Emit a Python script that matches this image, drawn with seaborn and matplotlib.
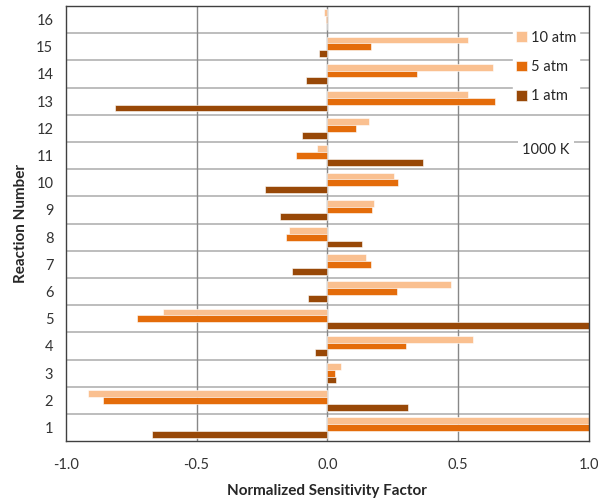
import pandas as pd
import seaborn as sns
import matplotlib.pyplot as plt

# sensitivity data, reaction 1..16
reactions = [str(i) for i in range(1, 17)]
atm10 = [1.0, -0.914, 0.053, 0.558, -0.629, 0.474, 0.149, -0.146,
         0.180, 0.254, -0.041, 0.159, 0.537, 0.632, 0.537, -0.012]
atm5 = [1.0, -0.858, 0.029, 0.302, -0.728, 0.267, 0.168, -0.159,
        0.169, 0.270, -0.120, 0.109, 0.639, 0.343, 0.168, -0.007]
atm1 = [-0.669, 0.308, 0.032, -0.048, 1.0, -0.074, -0.134, 0.131,
        -0.181, -0.239, 0.365, -0.096, -0.813, -0.080, -0.032, 0.0]
pressures = ["10 atm", "5 atm", "1 atm"]
colors = ["#FAC090", "#E46C0A", "#984807"]
xticks = [-1.0, -0.5, 0.0, 0.5, 1.0]

df = pd.DataFrame({
    "reaction": reactions * 3,
    "value": atm10 + atm5 + atm1,
    "pressure": [p for p in pressures for _ in reactions],
})

sns.set_style("white")
plt.rcParams["font.family"] = ["Lato", "DejaVu Sans"]

fig = plt.figure(figsize=(5.98, 4.99), dpi=100)
ax = fig.add_axes([0.110, 0.116, 0.875, 0.872])

# separators between reactions and vertical grid, drawn under the bars
for i in range(15):
    ax.axhline(i + 0.5, color="#bdbdbd", lw=1.4, zorder=0)
for x in [-0.5, 0.0, 0.5]:
    ax.axvline(x, color="#888888", lw=1.0, zorder=0)

sns.barplot(data=df, x="value", y="reaction", hue="pressure",
            order=reactions[::-1], hue_order=pressures, palette=colors,
            saturation=1, orient="h", width=0.75, edgecolor="white",
            linewidth=0.4, ax=ax, zorder=2)

ax.set_xlim(-1, 1)
ax.set_xticks(xticks)
ax.set_xticklabels([f"{v:.1f}" for v in xticks])
ax.tick_params(axis="both", length=0, labelsize=10.5, colors="#333333")
ax.tick_params(axis="x", pad=12)
ax.tick_params(axis="y", pad=9)
for s in ax.spines.values():
    s.set_color("#404040")
    s.set_linewidth(1.0)

ax.set_xlabel("Normalized Sensitivity Factor", fontsize=11, fontweight="bold", labelpad=9)
ax.set_ylabel("Reaction Number", fontsize=11, fontweight="bold", labelpad=6)

h, l = ax.get_legend_handles_labels()
ax.legend(h, l, loc="center", bbox_to_anchor=(546 / 598, 1 - 67 / 499),
          bbox_transform=fig.transFigure, frameon=True, framealpha=1,
          edgecolor="white", facecolor="white", fontsize=10.5,
          handlelength=0.75, handleheight=0.75, handletextpad=0.3,
          labelspacing=1.05, borderpad=0.2, fancybox=False)

ax.text(546, 499 - 150, "1000 K", transform=None, fontsize=10.5,
        ha="center", va="center",
        bbox=dict(facecolor="white", edgecolor="none", pad=3))

fig.savefig("out.png", dpi=100)
